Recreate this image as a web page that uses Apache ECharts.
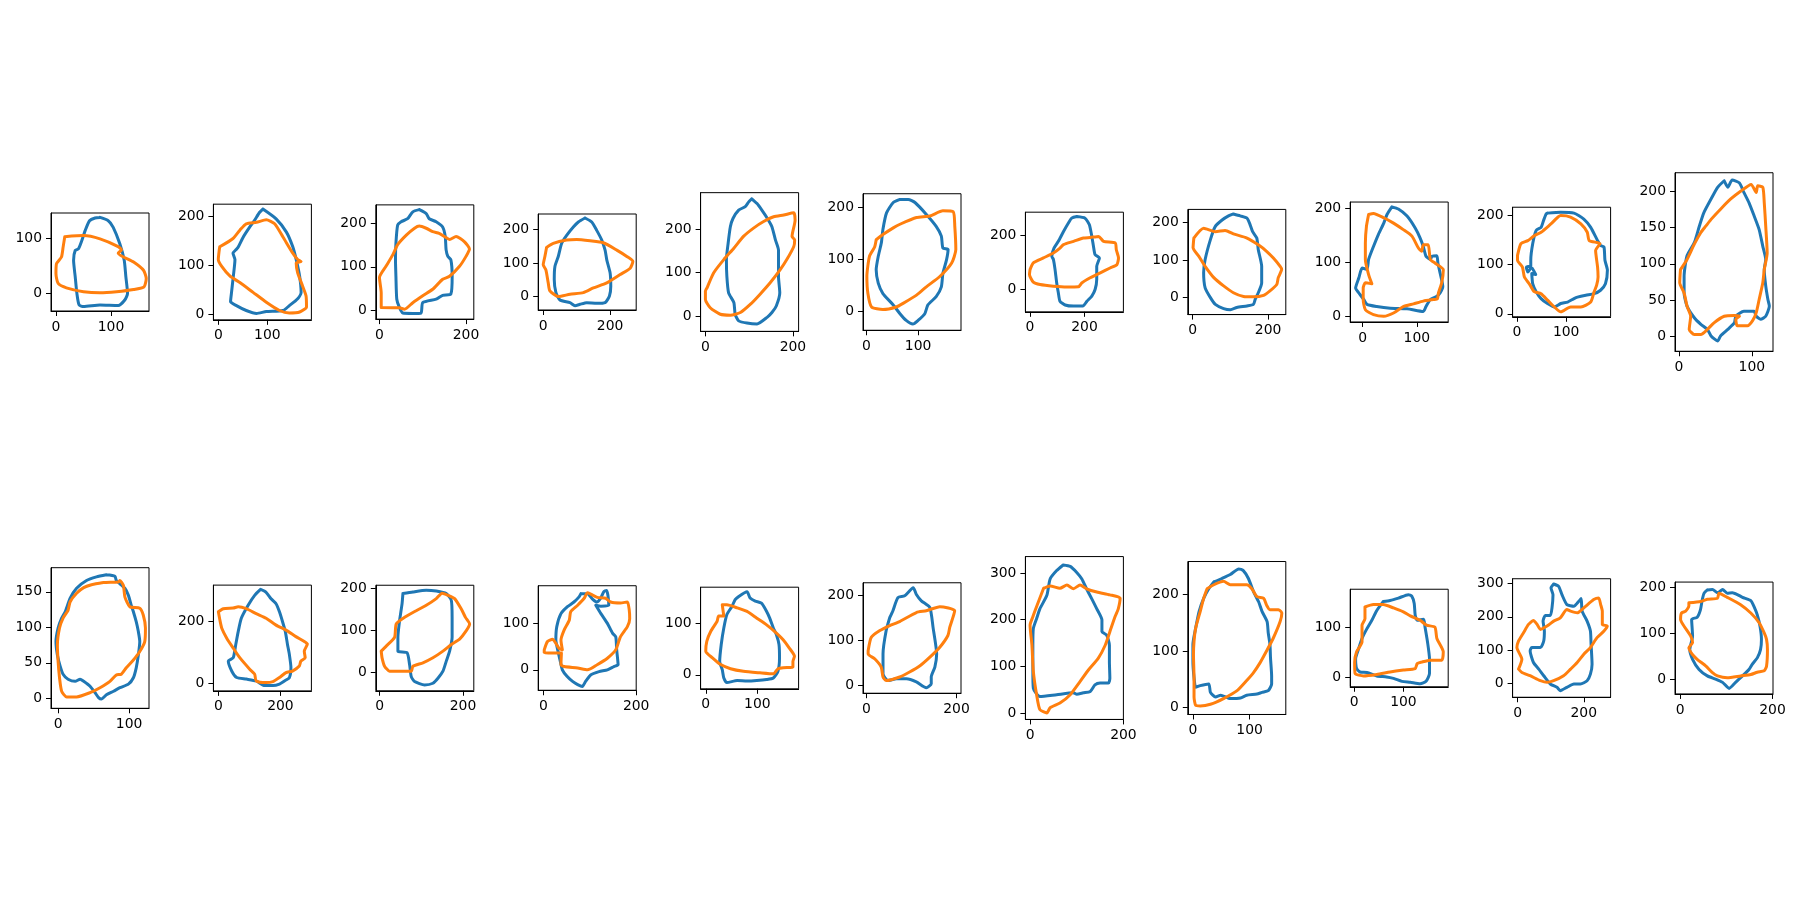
<!DOCTYPE html>
<html><head><meta charset="utf-8">
<script src="https://cdn.jsdelivr.net/npm/echarts@6/dist/echarts.min.js"></script>
<style>html,body{margin:0;padding:0;background:#fff}#c{width:1800px;height:900px}</style>
</head><body><div id="c"></div><script>
// ---- contour data (x, y) per panel ----
const t1Blue=[[80,138],[95,132],[104,120],[116,90],[124,60],[127,30],[130,0],[125,-12],[113,-22],[80,-21],[50,-24],[42,-21],[38,0],[35,30],[32,60],[35,78],[41,81],[47,96],[53,114],[61,132],[71,137]];
const t1Orange=[[16,103],[50,105],[80,99],[113,85],[119,79],[113,73],[141,57],[159,42],[164,27],[160,12],[141,7],[110,3],[80,1],[50,3],[19,10],[4,18],[0,36],[1,54],[10,66],[13,84]];
const t2Blue=[[91,214],[118,194],[139,167],[152,137],[159,111],[166,77],[169,44],[162,31],[145,17],[132,7],[98,5],[78,1],[57,7],[37,17],[25,25],[27,44],[30,71],[34,111],[30,124],[37,132],[41,137],[51,157],[64,177],[74,191],[84,207]];
const t2Orange=[[3,137],[30,154],[44,171],[57,184],[78,187],[98,192],[115,184],[132,157],[152,124],[162,111],[169,107],[159,104],[162,84],[172,57],[179,37],[180,14],[166,4],[145,2],[125,7],[98,24],[71,44],[44,64],[24,77],[7,97],[0,111],[2,131]];
const t3Blue=[[92,232],[108,223],[115,211],[131,204],[146,192],[152,170],[154,139],[158,124],[165,116],[168,78],[165,37],[146,34],[131,25],[100,17],[96,-7],[77,-8],[54,-7],[46,6],[40,25],[38,78],[37,116],[38,154],[42,196],[50,204],[65,211],[77,227]];
const t3Orange=[[4,6],[46,5],[58,2],[77,17],[100,33],[123,48],[146,71],[162,78],[185,101],[200,124],[208,141],[196,158],[177,170],[162,163],[150,170],[138,177],[123,181],[108,189],[92,194],[81,189],[62,173],[42,151],[31,128],[15,101],[0,75],[4,40]];
const t4Blue=[[125,235],[145,223],[160,198],[175,169],[185,139],[190,110],[200,71],[202,31],[198,2],[185,-18],[160,-20],[130,-18],[110,-23],[95,-27],[80,-18],[50,-10],[38,12],[33,51],[35,90],[45,120],[55,159],[70,183],[90,208],[105,223]];
const t4Orange=[[10,147],[30,159],[70,169],[100,171],[140,167],[180,161],[220,139],[250,120],[268,105],[260,85],[230,66],[190,41],[150,26],[120,12],[80,7],[45,0],[20,17],[15,41],[8,80],[0,95],[5,120]];
const t5Blue=[[106,269],[118,258],[129,243],[141,225],[152,205],[160,175],[167,152],[167,92],[170,54],[162,24],[152,9],[141,-2],[118,-17],[95,-15],[76,-10],[68,5],[65,32],[53,54],[49,92],[48,130],[52,168],[57,205],[63,224],[76,243],[91,251],[99,262]];
const t5Orange=[[4,66],[19,100],[42,130],[65,156],[87,183],[110,202],[133,217],[156,228],[179,232],[202,237],[205,220],[198,183],[204,175],[202,160],[186,130],[171,107],[148,77],[125,51],[103,28],[80,9],[57,3],[34,5],[11,20],[0,39],[0,58]];
const t6Blue=[[65,216],[81,216],[94,210],[116,187],[135,164],[145,145],[148,122],[158,119],[155,99],[148,73],[145,47],[135,28],[119,12],[113,-5],[100,-18],[90,-25],[77,-18],[65,-5],[52,12],[32,34],[23,54],[19,80],[23,106],[29,132],[32,158],[39,190],[52,210]];
const t6Orange=[[19,138],[32,148],[52,161],[65,168],[97,181],[123,184],[148,194],[168,192],[171,164],[173,119],[165,93],[142,67],[116,47],[97,31],[71,15],[58,8],[32,3],[10,8],[3,34],[1,67],[6,106],[16,124]];
const t7Blue=[[172,268],[202,262],[218,238],[227,195],[233,159],[239,128],[255,116],[245,85],[245,37],[239,0],[227,-24],[209,-43],[194,-61],[160,-61],[129,-57],[110,-43],[104,-12],[98,24],[92,73],[86,110],[80,122],[88,152],[104,177],[123,213],[141,244],[153,262]];
const t7Orange=[[0,73],[12,98],[49,116],[86,134],[110,152],[123,165],[160,177],[196,189],[221,191],[252,195],[270,177],[313,171],[317,146],[325,116],[319,91],[294,79],[258,61],[221,43],[190,24],[178,10],[135,9],[86,12],[37,18],[12,27],[-2,55]];
const t8Blue=[[108,222],[126,217],[144,211],[151,197],[159,175],[170,158],[174,127],[183,83],[183,39],[174,13],[166,-4],[161,-18],[144,-22],[117,-26],[100,-32],[82,-29],[60,-18],[47,0],[33,26],[29,66],[33,101],[47,154],[60,189],[78,206],[95,217]];
const t8Orange=[[3,158],[29,184],[60,175],[86,178],[108,169],[144,158],[174,140],[196,123],[214,105],[232,83],[236,75],[227,53],[223,35],[205,18],[188,6],[161,2],[135,3],[108,13],[82,31],[56,53],[33,83],[16,110],[1,132]];
const t9Blue=[[54,202],[66,198],[82,185],[97,163],[106,145],[112,129],[117,111],[125,105],[128,111],[137,112],[139,98],[143,80],[148,55],[143,43],[137,37],[125,31],[117,18],[112,9],[82,14],[51,15],[26,18],[8,22],[2,31],[-7,43],[-13,52],[-7,71],[-1,89],[8,87],[11,105],[20,129],[29,151],[39,172],[45,188]];
const t9Orange=[[11,188],[20,190],[39,182],[57,172],[75,160],[91,148],[103,126],[109,120],[112,132],[121,132],[125,105],[134,98],[149,86],[146,62],[140,43],[138,32],[131,31],[112,28],[94,23],[75,18],[57,6],[39,0],[20,3],[5,12],[1,31],[1,52],[5,62],[17,60],[11,77],[5,105],[5,135],[7,166]];
const t10Blue=[[62,205],[89,207],[116,205],[136,193],[150,176],[164,149],[170,139],[177,136],[179,109],[184,89],[180,61],[170,48],[157,41],[140,38],[123,34],[116,31],[103,24],[89,21],[76,14],[62,21],[49,31],[39,45],[32,61],[30,82],[38,80],[27,97],[19,95],[22,85],[28,95],[28,109],[32,143],[39,170],[49,176],[54,190],[59,203]];
const t10Orange=[[1,119],[8,143],[22,149],[35,159],[49,166],[69,183],[89,200],[109,197],[130,183],[143,166],[147,149],[169,143],[160,129],[164,95],[165,75],[162,58],[157,45],[150,24],[130,14],[109,14],[89,4],[76,14],[62,28],[49,41],[35,45],[25,61],[15,75],[11,95],[1,109]];
const t11Blue=[[62,214],[67,205],[73,215],[83,211],[89,198],[96,184],[103,166],[110,147],[115,124],[119,106],[117,92],[119,70],[122,51],[124,42],[119,28],[112,24],[106,28],[103,35],[89,35],[78,28],[76,19],[67,10],[57,1],[53,-6],[44,1],[39,10],[30,17],[21,26],[11,42],[7,60],[7,83],[11,111],[21,129],[28,152],[34,170],[44,189],[53,205]];
const t11Orange=[[2,92],[11,106],[21,127],[30,143],[37,152],[44,161],[57,175],[71,189],[85,200],[99,209],[106,198],[108,207],[115,205],[117,184],[119,152],[121,115],[117,92],[115,74],[110,51],[106,33],[101,22],[94,15],[80,15],[78,24],[83,28],[76,29],[62,28],[48,19],[39,10],[30,3],[21,3],[14,10],[16,28],[11,42],[7,60],[1,74]];
const b1Blue=[[68,174],[80,172],[82,166],[94,155],[99,145],[103,131],[106,122],[110,108],[113,94],[115,80],[113,61],[110,43],[106,29],[99,20],[87,15],[78,10],[68,5],[61,-1],[57,1],[52,8],[45,17],[36,24],[31,27],[24,24],[14,27],[7,34],[3,45],[-1,61],[-3,80],[0,99],[5,113],[10,122],[17,141],[26,155],[40,166],[54,171]];
const b1Orange=[[47,160],[64,163],[85,164],[87,166],[92,159],[94,143],[101,129],[115,127],[120,117],[123,99],[122,80],[115,66],[106,54],[96,43],[89,34],[82,33],[73,24],[59,15],[45,8],[26,2],[12,2],[5,10],[2,29],[0,52],[-1,75],[2,99],[7,113],[14,124],[17,136],[26,148],[36,156]];
const b2Blue=[[136,303],[154,294],[170,273],[186,257],[197,231],[207,199],[216,167],[223,125],[229,93],[234,51],[229,19],[213,8],[197,-2],[176,-7],[149,-7],[122,8],[90,14],[59,19],[43,40],[32,72],[48,83],[56,125],[64,167],[74,210],[96,252],[117,284]];
const b2Orange=[[0,231],[16,241],[48,243],[64,247],[90,241],[122,225],[154,210],[186,188],[218,172],[250,151],[277,135],[287,127],[277,104],[280,83],[266,72],[261,56],[239,40],[218,35],[197,19],[176,6],[154,3],[122,8],[117,30],[101,46],[69,83],[48,114],[27,146],[11,178],[5,204]];
const b3Blue=[[56,188],[80,192],[112,196],[136,194],[160,188],[172,172],[174,131],[174,83],[168,50],[160,26],[152,2],[140,-15],[128,-27],[108,-31],[84,-23],[76,-11],[72,18],[66,46],[44,50],[44,83],[48,123],[54,164]];
const b3Orange=[[4,50],[16,62],[36,83],[40,115],[60,131],[88,147],[112,160],[136,176],[150,189],[164,184],[180,176],[196,151],[206,131],[216,115],[208,99],[192,79],[172,66],[152,50],[128,34],[104,22],[80,14],[76,2],[48,2],[24,2],[12,14],[6,34]];
const b4Blue=[[81,164],[95,164],[106,152],[115,146],[124,155],[130,168],[136,171],[139,161],[141,139],[124,137],[113,139],[124,121],[138,100],[149,79],[156,71],[158,43],[161,11],[152,7],[138,0],[120,-4],[102,-11],[91,-25],[84,-36],[74,-32],[63,-25],[51,-14],[41,0],[36,21],[31,43],[27,64],[29,93],[38,121],[52,136],[66,146],[77,157]];
const b4Orange=[[2,43],[9,61],[20,66],[27,57],[34,46],[41,43],[38,64],[45,86],[56,107],[59,125],[74,139],[88,154],[95,166],[102,163],[116,156],[134,154],[145,146],[166,144],[181,146],[185,129],[186,110],[181,93],[166,71],[156,43],[138,25],[116,11],[95,0],[74,4],[45,7],[38,11],[39,36],[20,36],[2,37]];
const b5Blue=[[64,152],[80,161],[86,149],[96,143],[108,139],[118,123],[124,110],[131,91],[137,78],[142,59],[143,33],[140,7],[131,-6],[118,-9],[99,-11],[80,-12],[61,-11],[41,-15],[35,-6],[32,10],[27,26],[30,59],[35,91],[41,117],[51,133],[57,146]];
const b5Orange=[[32,136],[41,136],[61,130],[80,123],[99,110],[118,97],[137,81],[150,68],[162,52],[172,36],[169,26],[169,15],[150,14],[140,12],[131,2],[105,4],[73,7],[48,12],[29,20],[13,33],[0,46],[2,65],[10,85],[22,104],[25,114],[35,114]];
const b6Blue=[[52,150],[59,165],[70,194],[85,198],[104,216],[111,201],[122,187],[141,172],[148,128],[156,69],[152,40],[144,18],[144,3],[133,-6],[111,7],[89,14],[67,14],[48,10],[37,25],[37,69],[44,121]];
const b6Orange=[[4,76],[11,106],[30,121],[52,132],[74,141],[111,161],[133,165],[163,174],[196,165],[185,128],[181,110],[163,84],[141,62],[119,43],[96,29],[74,18],[44,10],[37,18],[33,40],[19,58],[4,69]];
const b7Blue=[[71,317],[86,314],[100,301],[111,287],[121,266],[132,245],[143,223],[154,199],[154,174],[164,167],[170,145],[170,110],[171,74],[168,64],[150,64],[139,60],[129,46],[114,43],[100,40],[93,43],[57,39],[21,35],[7,53],[6,89],[6,145],[7,181],[14,202],[21,223],[36,252],[43,287],[57,305]];
const b7Orange=[[29,267],[43,272],[64,267],[79,274],[93,266],[107,274],[121,266],[143,259],[171,253],[193,246],[189,223],[182,206],[171,174],[161,145],[146,117],[125,92],[107,67],[86,39],[64,21],[43,11],[36,0],[21,7],[14,39],[7,89],[4,145],[0,188],[6,206],[11,220]];
const b8Blue=[[37,222],[51,228],[66,235],[81,245],[89,242],[98,228],[107,205],[116,187],[122,170],[131,152],[133,132],[136,112],[137,88],[139,56],[139,42],[133,30],[122,27],[113,24],[95,22],[84,17],[66,16],[49,22],[40,19],[31,27],[28,42],[13,39],[5,36],[2,53],[0,83],[0,112],[5,141],[11,170],[19,193],[28,210]];
const b8Orange=[[25,210],[37,217],[54,223],[66,217],[78,217],[95,217],[104,210],[113,196],[125,193],[130,181],[136,173],[151,173],[157,167],[154,152],[142,123],[130,100],[119,80],[107,62],[95,48],[78,30],[54,16],[31,6],[13,3],[5,4],[2,19],[2,53],[1,94],[2,117],[5,141],[13,170],[19,193]];
const b9Blue=[[59,153],[73,155],[90,160],[110,167],[117,164],[122,149],[124,125],[128,115],[141,117],[144,101],[149,71],[153,37],[153,7],[146,-9],[134,-14],[114,-11],[97,-9],[80,-3],[66,0],[46,2],[26,9],[12,10],[5,17],[3,37],[9,57],[16,78],[26,98],[36,115],[46,135]];
const b9Orange=[[22,142],[39,147],[59,147],[80,140],[100,132],[114,124],[134,115],[147,105],[164,101],[168,78],[181,51],[178,34],[154,34],[137,30],[128,27],[124,17],[100,14],[73,10],[46,5],[19,2],[2,7],[1,30],[5,51],[16,71],[16,105],[22,118]];
const b10Blue=[[109,299],[124,292],[134,267],[149,237],[170,232],[185,247],[192,255],[195,217],[210,187],[220,157],[222,117],[225,57],[220,27],[210,7],[190,-3],[170,-3],[149,-13],[129,-23],[119,-13],[99,-3],[79,22],[64,42],[48,62],[38,97],[43,107],[69,107],[79,127],[81,157],[77,187],[84,204],[99,204],[104,227],[107,267],[101,287]];
const b10Orange=[[3,42],[13,72],[-2,107],[3,127],[18,152],[33,177],[48,189],[59,177],[69,162],[89,172],[109,187],[129,197],[149,222],[160,217],[180,212],[200,227],[230,252],[245,257],[251,237],[256,217],[256,177],[271,172],[261,157],[240,137],[220,107],[200,87],[180,62],[160,42],[139,22],[109,7],[89,2],[69,7],[38,22],[13,32]];
const b11Blue=[[59,194],[70,195],[81,188],[92,195],[102,187],[113,188],[124,184],[135,178],[153,171],[160,158],[167,140],[173,115],[176,87],[174,65],[167,47],[156,33],[149,22],[135,8],[120,-6],[106,-19],[92,-6],[77,1],[59,8],[41,22],[27,44],[21,65],[27,94],[25,130],[37,135],[44,151],[48,173],[52,187]];
const b11Orange=[[19,166],[45,169],[59,174],[81,176],[84,187],[102,178],[131,162],[153,144],[171,123],[182,101],[187,87],[189,65],[187,29],[182,19],[167,16],[153,11],[131,8],[102,4],[81,8],[70,15],[56,29],[37,44],[27,54],[19,69],[27,80],[23,94],[9,115],[1,130],[3,144],[12,148],[19,159]];

// ---- axis ranges and tick labels per panel ----
const xLimits=[[-9,169],[-10,190],[-8.5,218],[-15,278],[-11,213],[-6.5,183],[-17,343],[-13,247],[-23,158],[-9,190.5],[-5.5,129],
               [-10,128],[-16,300],[-9,226],[-11,200],[-10,180],[-7.4,210],[-10,200],[-9,164],[-8,191],[-15,281],[-11,201]];
const yLimits=[[-32,146],[-12,224],[-21,243],[-40,247],[-34,283],[-37,227],[-82,284],[-45,234],[-10.5,211],[-6,217],[-20,225],
               [-14,184],[-24,317],[-45,208],[-44,181],[-27,170],[-18,227],[-14,335],[-12,258],[-20,178],[-43,315],[-31,211]];
const xTicks=[[0,100],[0,100],[0,200],[0,200],[0,200],[0,100],[0,200],[0,200],[0,100],[0,100],[0,100],
              [0,100],[0,200],[0,200],[0,200],[0,100],[0,200],[0,200],[0,100],[0,100],[0,200],[0,200]];
const yTicks=[[0,100],[0,100,200],[0,100,200],[0,100,200],[0,100,200],[0,100,200],[0,200],[0,100,200],[0,100,200],[0,100,200],[0,50,100,150,200],
              [0,50,100,150],[0,200],[0,100,200],[0,100],[0,100],[0,100,200],[0,100,200,300],[0,100,200],[0,100],[0,100,200,300],[0,100,200]];
const blueContours=[t1Blue,t2Blue,t3Blue,t4Blue,t5Blue,t6Blue,t7Blue,t8Blue,t9Blue,t10Blue,t11Blue,
                    b1Blue,b2Blue,b3Blue,b4Blue,b5Blue,b6Blue,b7Blue,b8Blue,b9Blue,b10Blue,b11Blue];
const orangeContours=[t1Orange,t2Orange,t3Orange,t4Orange,t5Orange,t6Orange,t7Orange,t8Orange,t9Orange,t10Orange,t11Orange,
                      b1Orange,b2Orange,b3Orange,b4Orange,b5Orange,b6Orange,b7Orange,b8Orange,b9Orange,b10Orange,b11Orange];

// ---- build chart ----
const closeLoop = a => a.concat([a[0]]);
const grids=[], xAxes=[], yAxes=[], series=[];
const FONT = {color:'#000', fontSize:13.9, fontFamily:'DejaVu Sans'};
for (let p=0;p<22;p++){
  const row = p<11?0:1, col = p%11;
  const cx = 100 + col*162.4, cy = row===0?262:638;
  const xr = xLimits[p][1]-xLimits[p][0], yr = yLimits[p][1]-yLimits[p][0];
  const w = 98, h = w*yr/xr;
  grids.push({left:cx-w/2, top:cy-h/2, width:w, height:h, show:true, borderColor:'#000', borderWidth:1, backgroundColor:'transparent', outerBoundsMode:'none'});
  xAxes.push({type:'value', gridIndex:p, min:xLimits[p][0], max:xLimits[p][1],
    axisLine:{show:true,onZero:false,lineStyle:{color:'#000',width:1}},
    axisTick:{show:true,customValues:xTicks[p],length:5,lineStyle:{color:'#000',width:1}},
    axisLabel:Object.assign({customValues:xTicks[p],margin:9},FONT),
    splitLine:{show:false}});
  yAxes.push({type:'value', gridIndex:p, min:yLimits[p][0], max:yLimits[p][1],
    axisLine:{show:true,onZero:false,lineStyle:{color:'#000',width:1}},
    axisTick:{show:true,customValues:yTicks[p],length:5,lineStyle:{color:'#000',width:1}},
    axisLabel:Object.assign({customValues:yTicks[p],margin:9},FONT),
    splitLine:{show:false}});
  series.push({type:'line', xAxisIndex:p, yAxisIndex:p, data:closeLoop(blueContours[p]), showSymbol:false, symbol:'none', smooth:0.2,
    lineStyle:{color:'#1f77b4',width:3,join:'round',cap:'round'}, itemStyle:{color:'#1f77b4'}, silent:true, clip:false});
  series.push({type:'line', xAxisIndex:p, yAxisIndex:p, data:closeLoop(orangeContours[p]), showSymbol:false, symbol:'none', smooth:0.2,
    lineStyle:{color:'#ff7f0e',width:3,join:'round',cap:'round'}, itemStyle:{color:'#ff7f0e'}, silent:true, clip:false});
}
const chart = echarts.init(document.getElementById('c'), null, {renderer:'canvas'});
chart.setOption({backgroundColor:'#fff', animation:false, grid:grids, xAxis:xAxes, yAxis:yAxes, series:series});
</script></body></html>
